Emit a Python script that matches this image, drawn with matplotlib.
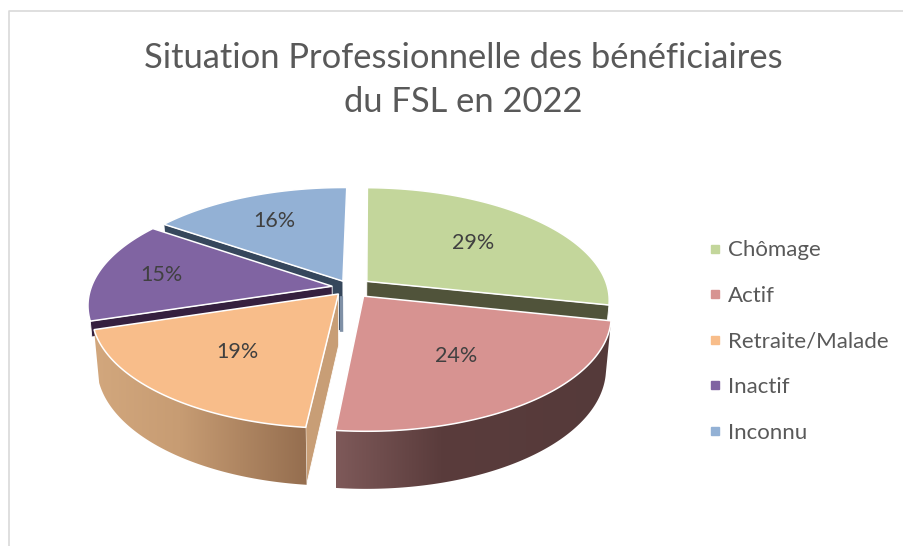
import numpy as np
import matplotlib
matplotlib.use("Agg")
import matplotlib.pyplot as plt
from matplotlib.colors import to_rgb
from matplotlib.lines import Line2D
from matplotlib.patches import Polygon

plt.rcParams["font.family"] = ["Lato", "DejaVu Sans"]

# Data
categories = ["Chômage", "Actif", "Retraite/Malade", "Inactif", "Inconnu"]
values = [29, 24, 19, 15, 16]
title = "Situation Professionnelle des bénéficiaires\ndu FSL en 2022"

# Slice styles
explode = [0.09, 0.095, 0.075, 0.075, 0.065]
top_colors = ["#c3d69b", "#d79391", "#f8bd8a", "#8064a2", "#93b1d5"]
start_face = [None, None, "#c89e76", "#35203f", "#36475c"]
end_face = ["#50533a", None, None, None, None]
face_depth = [1, 1, 1, 0.3, 1]
label_r = [0.61, 0.59, 0.6, 0.73, 0.7]
# only the two front slices show their outer wall
wall_stops = [
    None,
    [(333, "#7f5a5a"), (440, "#5a3c3c"), (610, "#553a3a")],
    [(95, "#d2a77d"), (180, "#c79c73"), (303, "#966f50")],
    None,
    None,
]
# drawn from the back to the front
draw_order = [0, 4, 3, 2, 1]

# Projection of the tilted pie, in image pixels
cx, cy = 350, 287.5
rx, ry = 241, 110.5
persp = 0.16
depth = 51
start_angle = 0.8


def project(u, v, z=0.0):
    p = 1 / (1 + persp * v)
    x = cx + rx * u * p * (1 - 0.02 * z)
    y = cy - ry * v * p + z * depth * (1 - 0.12 * v)
    return x, y


def plan(theta, r, e, mid):
    # theta clockwise from the top, in degrees
    t, m = np.radians(theta), np.radians(mid)
    return r * np.sin(t) + e * np.sin(m), r * np.cos(t) + e * np.cos(m)


fig = plt.figure(figsize=(9.04, 5.46), dpi=100)
ax = fig.add_axes([0, 0, 1, 1])
ax.axis("off")

# chart border
ax.plot([9, 9, 904], [546, 11, 11], color="#d9d9d9", lw=1.2)

bounds = start_angle + np.concatenate([[0], np.cumsum(values) / np.sum(values) * 360])

for i in draw_order:
    a0, a1 = bounds[i], bounds[i + 1]
    mid = (a0 + a1) / 2
    e = explode[i]
    apex = plan(0, 0, e, mid)

    # radial faces
    for ang, col in ((a0, start_face[i]), (a1, end_face[i])):
        if col is None:
            continue
        tip = plan(ang, 1, e, mid)
        z = face_depth[i]
        corners = [project(*apex), project(*tip), project(*tip, z), project(*apex, z)]
        ax.fill(*zip(*corners), facecolor=col, edgecolor="white", lw=0.6)

    # inner edge of the last slice, seen almost edge-on
    if i == 4:
        ex, ey = project(*apex)
        ex1, ey1 = project(*apex, 1)
        ax.plot([ex - 1.5, ex1 - 1.5], [ey + 15, ey1], color="#7f90a6", lw=2.4, solid_capstyle="butt")

    angs = np.linspace(a0, a1, 120)
    u, v = plan(angs, 1, e, mid)

    # outer wall with its horizontal shading
    if wall_stops[i] is not None:
        xt, yt = project(u, v)
        xb, yb = project(u, v, 1)
        outline = np.column_stack([np.r_[xt, xb[::-1]], np.r_[yt, yb[::-1]]])
        x0, x1 = outline[:, 0].min(), outline[:, 0].max()
        grad_x = np.linspace(x0, x1, 256)
        sx = [s[0] for s in wall_stops[i]]
        rgb = np.array([to_rgb(s[1]) for s in wall_stops[i]])
        grad = np.stack([np.interp(grad_x, sx, rgb[:, k]) for k in range(3)], axis=1)[None, :, :]
        im = ax.imshow(grad, extent=(x0, x1, outline[:, 1].max(), outline[:, 1].min()),
                       aspect="auto", interpolation="bilinear", zorder=1)
        im.set_clip_path(Polygon(outline, closed=True, transform=ax.transData))

    # top surface
    xs, ys = project(np.r_[apex[0], u], np.r_[apex[1], v])
    ax.fill(xs, ys, facecolor=top_colors[i], edgecolor="white", lw=1.1, joinstyle="miter", zorder=1)

ax.set_xlim(0, 904)
ax.set_ylim(546, 0)
ax.set_aspect("auto")

# value labels
for i, val in enumerate(values):
    mid = (bounds[i] + bounds[i + 1]) / 2
    lx, ly = project(*plan(mid, label_r[i], explode[i], mid))
    ax.text(lx, ly + 1, f"{val}%", ha="center", va="center", fontsize=15.5, color="#404040", zorder=3)

ax.text(463, 80, title, ha="center", va="center", fontsize=24.8, color="#595959", linespacing=1.46)

handles = [Line2D([], [], linestyle="none", marker="s", markersize=5.2, color=c) for c in top_colors]
ax.legend(handles, categories, loc="center left", bbox_to_anchor=(706.5 / 904, 1 - 341.5 / 546),
          frameon=False, fontsize=16, labelcolor="#595959", labelspacing=1.15,
          handlelength=0.8, handletextpad=0.18, borderpad=0, borderaxespad=0)

fig.savefig("out.png", dpi=100)
